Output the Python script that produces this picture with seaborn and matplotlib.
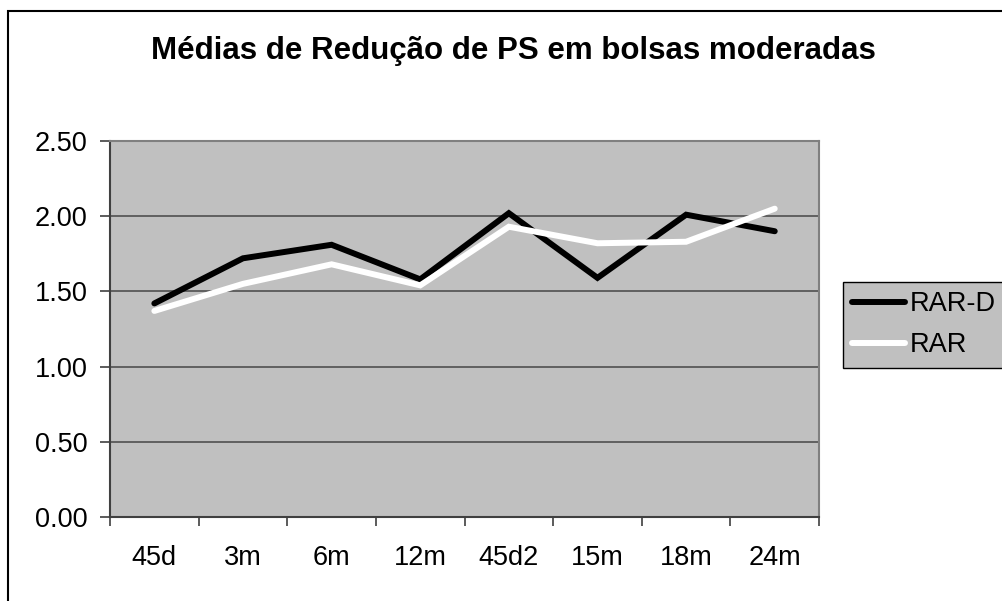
import matplotlib
matplotlib.use("Agg")
import matplotlib.pyplot as plt
import matplotlib.patches as mpatches
import seaborn as sns
import pandas as pd

categories = ['45d', '3m', '6m', '12m', '45d2', '15m', '18m', '24m']
rar_d = [1.42, 1.72, 1.81, 1.58, 2.02, 1.59, 2.01, 1.90]
rar = [1.37, 1.55, 1.68, 1.54, 1.93, 1.82, 1.83, 2.05]

df = pd.DataFrame({
    'x': list(range(len(categories))) * 2,
    'valor': rar_d + rar,
    'serie': ['RAR-D'] * len(categories) + ['RAR'] * len(categories),
})

sns.set_style('white')
plt.rcParams['font.family'] = ['Liberation Sans', 'DejaVu Sans']
plt.rcParams['text.color'] = 'black'

fig = plt.figure(figsize=(10.03, 6.01), dpi=100)
ax = fig.add_axes([0.1097, 0.1398, 0.7069, 0.6256])
ax.set_facecolor('#C0C0C0')

sns.lineplot(data=df, x='x', y='valor', hue='serie', palette=['black', 'white'],
             linewidth=4.3, ax=ax, legend=False)
for ln in ax.get_lines():
    ln.set_solid_capstyle('round')
    ln.set_solid_joinstyle('miter')

ax.set_xlim(-0.5, len(categories) - 0.5)
ax.set_ylim(0, 2.5)
ax.set_yticks([0, 0.5, 1.0, 1.5, 2.0, 2.5])
ax.set_yticklabels(['0.00', '0.50', '1.00', '1.50', '2.00', '2.50'])
ax.yaxis.grid(True, color='#505050', linewidth=1.2)
ax.set_axisbelow(True)

ax.set_xticks([i - 0.5 for i in range(len(categories) + 1)])
ax.set_xticklabels([])
ax.set_xticks(range(len(categories)), minor=True)
ax.set_xticklabels(categories, minor=True)
ax.tick_params(axis='x', which='major', direction='out', length=6.5, width=1.2, color='#404040', bottom=True)
ax.tick_params(axis='x', which='minor', length=0, labelsize=19.5, pad=20, labelcolor='black')
ax.tick_params(axis='y', direction='out', length=7, width=1.2, color='#404040', left=True,
               labelsize=19.5, pad=9, labelcolor='black')
ax.set_xlabel('')
ax.set_ylabel('')

for side in ['top', 'right']:
    ax.spines[side].set_color('#808080')
    ax.spines[side].set_linewidth(1.5)
for side in ['left', 'bottom']:
    ax.spines[side].set_color('#404040')
    ax.spines[side].set_linewidth(1.5)

fig.text(0.512, 0.9018, 'Médias de Redução de PS em bolsas moderadas', ha='center',
         va='baseline', fontsize=22.5, fontweight='bold', color='black')

handles = [plt.Line2D([], [], color='black', linewidth=4.3, solid_capstyle='round'),
           plt.Line2D([], [], color='white', linewidth=4.3, solid_capstyle='round')]
leg = fig.legend(handles, ['RAR-D', 'RAR'], loc='upper left', bbox_to_anchor=(843 / 1003, 1 - 282 / 601),
                 fontsize=19.5, frameon=True, fancybox=False, facecolor='#C0C0C0',
                 edgecolor='black', framealpha=1, handlelength=1.95, handletextpad=0.15,
                 borderpad=0.35, labelspacing=0.55, borderaxespad=0, labelcolor='black')
leg.get_frame().set_linewidth(1)

# chart area border (runs off the right and bottom edges)
fig.add_artist(mpatches.Rectangle((8 / 1003, -0.1), 1.2, 1.1 - 11 / 601, transform=fig.transFigure,
                                  fill=False, edgecolor='black', linewidth=1.5))

fig.savefig('out.png', dpi=100)
